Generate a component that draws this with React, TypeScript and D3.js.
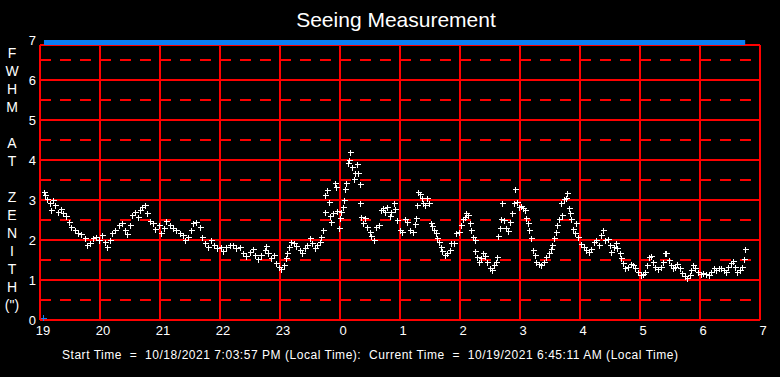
import React from "react";
import * as d3 from "d3";

// minutes after 19:00 on 10/18/2021
const minutes: number[] = [
  4.0, 5.3, 7.3, 9.7, 10.7, 13, 15.3, 18, 20.7, 23, 26.3, 29, 31.3, 34.7, 38, 41.3, 44.7, 47.3, 49.7, 53,
  56.3, 59, 62.3, 64.7, 67.3, 69.7, 72, 75.3, 78.7, 82, 84.7, 87, 89.7, 92, 94.7, 98, 99.7, 102, 104.7, 107.3,
  109.7, 113, 115.3, 118.7, 121.3, 124, 126.3, 129.7, 133, 136.3, 139.7, 143, 145.3, 148, 150.7, 153, 156.3, 159.7, 162.3, 164.7,
  168, 170.7, 174, 177.3, 180.7, 183, 186.3, 189.7, 193, 196.3, 199.7, 203, 206.3, 209.7, 213, 215.3, 218, 221.3, 224.7, 226.3,
  228, 231.3, 234, 236.3, 239, 241.3, 243.7, 245.7, 247.3, 249, 251.3, 254, 256.3, 259.7, 262, 264.7, 267.3, 269.7, 272.3, 274.7,
  277.3, 279.7, 281.3, 283, 284.7, 285.3, 287.3, 288.7, 289.7, 291.3, 293, 294.7, 296.3, 297.3, 298.7, 300, 301.3, 303, 304, 305.3,
  306.3, 308, 309, 310.3, 312, 314, 315.3, 317.3, 318, 319.7, 320.3, 321.3, 323, 324.7, 327.3, 329.7, 331.3, 333.7, 336.3, 338.7,
  340.7, 343, 345.3, 347.3, 349.7, 351.3, 353.7, 355.3, 357.3, 359.7, 362, 364.7, 367.3, 369.7, 373, 375.3, 376.3, 377.3, 378, 379.7,
  382, 383, 384.7, 387.3, 388.7, 390.7, 392.3, 394, 395.7, 397.3, 399, 400.7, 402.3, 404.7, 407.3, 409.7, 411.3, 414, 416.3, 418.7,
  421.3, 423, 424.7, 426.3, 428, 429.7, 431.3, 433, 434.7, 435.3, 437, 438.7, 440.7, 443, 445.3, 447.3, 449.7, 452, 454, 455.7,
  457, 458, 459.7, 460.7, 462, 464, 466.3, 468, 469.7, 472, 473.7, 475.3, 477.3, 478.7, 480.7, 483, 485.3, 486.3, 488, 489,
  490.7, 493, 494.7, 496.3, 498.7, 501.3, 504, 506.3, 508.7, 510.7, 512.3, 514, 515.7, 517.3, 519, 520.7, 522, 523.7, 525.7, 527.3,
  528.7, 530.3, 531.3, 533, 534.7, 536.3, 538, 540.7, 544, 546.3, 548.7, 551.3, 554, 556.3, 558.7, 561.3, 563, 565.3, 568, 569.7,
  571.3, 574, 576.3, 577.3, 579.7, 581.3, 583, 585.3, 588, 590.7, 593, 595.3, 598, 600.7, 603, 605.3, 607, 608.7, 610.7, 613,
  615.3, 618, 620.7, 623, 624.7, 626.3, 628.7, 630.7, 633, 635.3, 637.3, 639.7, 642, 644.7, 647.3, 649.7, 651.3, 653, 655.3, 658,
  660.7, 663, 665.7, 668.7, 671.3, 674, 676.3, 678.7, 681.3, 684, 686.3, 688, 690.7, 693, 694.7, 697.3, 699.7, 702, 703.7, 704.7,
];

const fwhm: number[] = [
  3.21, 3.12, 3.02, 2.92, 2.75, 3.0, 2.87, 2.71, 2.77, 2.67, 2.6, 2.46, 2.33, 2.25, 2.17, 2.15, 2.04, 1.88, 1.93, 2.04,
  2.08, 2.0, 2.12, 1.96, 1.82, 2.0, 2.17, 2.25, 2.37, 2.42, 2.25, 2.14, 2.37, 2.62, 2.71, 2.58, 2.75, 2.82, 2.87, 2.67,
  2.48, 2.42, 2.27, 2.37, 2.18, 2.29, 2.48, 2.37, 2.29, 2.25, 2.18, 2.12, 2.0, 2.08, 2.25, 2.42, 2.46, 2.33, 2.08, 1.92,
  1.83, 2.0, 1.88, 1.79, 1.83, 1.73, 1.82, 1.88, 1.88, 1.79, 1.83, 1.67, 1.6, 1.71, 1.77, 1.63, 1.52, 1.63, 1.75, 1.85,
  1.68, 1.54, 1.63, 1.42, 1.33, 1.27, 1.38, 1.54, 1.67, 1.83, 1.96, 1.93, 1.85, 1.75, 1.67, 1.79, 1.88, 2.04, 1.92, 1.79,
  1.88, 1.96, 2.08, 2.25, 2.71, 3.12, 3.25, 2.96, 2.6, 2.46, 2.67, 3.42, 3.33, 2.72, 2.29, 2.54, 2.71, 2.83, 3.0, 3.27,
  3.42, 3.92, 4.0, 4.19, 3.83, 3.52, 3.68, 3.89, 3.68, 3.4, 2.92, 2.57, 2.42, 2.54, 2.32, 2.21, 2.1, 2.0, 2.32, 2.37,
  2.75, 2.79, 2.71, 2.83, 2.6, 2.71, 2.93, 2.77, 2.5, 2.25, 2.21, 2.52, 2.46, 2.25, 2.21, 2.4, 2.54, 2.87, 3.21, 3.15,
  3.04, 2.92, 2.87, 3.04, 2.92, 2.43, 2.35, 2.25, 2.17, 2.04, 1.96, 1.83, 1.73, 1.63, 1.67, 1.75, 1.93, 1.93, 2.17, 2.21,
  2.37, 2.52, 2.58, 2.68, 2.62, 2.42, 2.25, 2.08, 2.0, 1.73, 1.57, 1.46, 1.54, 1.67, 1.6, 1.46, 1.29, 1.25, 1.38, 1.46,
  1.58, 2.1, 2.29, 2.52, 2.92, 2.5, 2.29, 2.23, 2.46, 2.67, 2.93, 3.27, 2.96, 2.83, 2.85, 2.79, 2.75, 2.54, 2.43, 2.25,
  2.04, 1.75, 1.63, 1.46, 1.4, 1.38, 1.46, 1.57, 1.68, 1.77, 1.88, 2.04, 2.21, 2.37, 2.52, 2.92, 2.62, 3.02, 3.04, 3.17,
  2.79, 2.67, 2.52, 2.27, 2.17, 2.42, 2.08, 1.9, 1.83, 1.75, 1.71, 1.77, 1.96, 2.0, 1.88, 2.12, 2.25, 2.0, 2.02, 1.88,
  1.71, 1.83, 1.93, 1.79, 1.67, 1.54, 1.42, 1.29, 1.33, 1.4, 1.38, 1.29, 1.21, 1.13, 1.15, 1.21, 1.38, 1.57, 1.6, 1.46,
  1.33, 1.27, 1.33, 1.46, 1.67, 1.68, 1.5, 1.38, 1.29, 1.33, 1.4, 1.29, 1.18, 1.1, 1.04, 1.13, 1.25, 1.38, 1.29, 1.21,
  1.15, 1.17, 1.15, 1.13, 1.21, 1.29, 1.25, 1.29, 1.29, 1.25, 1.21, 1.33, 1.42, 1.48, 1.33, 1.21, 1.25, 1.33, 1.52, 1.77,
];

const yTicks: number[] = [0, 1, 2, 3, 4, 5, 6, 7];
const yHalfTicks: number[] = [0.5, 1.5, 2.5, 3.5, 4.5, 5.5, 6.5];
const yAxisLetters: string[] = ["F", "W", "H", "M", "", "A", "T", "", "Z", "E", "N", "I", "T", "H", '(")'];

const title = "Seeing Measurement";
const footer =
  "Start Time  =  10/18/2021 7:03:57 PM (Local Time):  Current Time  =  10/19/2021 6:45:11 AM (Local Time)";

const axisStart = new Date(2021, 9, 18, 19, 0, 0);
const axisEnd = new Date(2021, 9, 19, 7, 0, 0);
const startTime = new Date(2021, 9, 18, 19, 3, 57);
const currentTime = new Date(2021, 9, 19, 6, 45, 11);

const W = 780;
const H = 377;
const FONT = "'Liberation Sans', Arial, sans-serif";

export default function App() {
  const x = d3.scaleTime().domain([axisStart, axisEnd]).range([40, 760]);
  const y = d3.scaleLinear().domain([0, 7]).range([320, 40]);
  const hours = d3.timeHour.range(axisStart, new Date(+axisEnd + 1));
  const fmt = d3.timeFormat("%-H");
  const pts = minutes.map((m, i) => ({ t: new Date(+axisStart + m * 60000), v: fwhm[i] }));
  const frameTop = y(7) + 5;
  const red = "#ff0000";

  return (
    <svg
      width={W}
      height={H}
      style={{ position: "absolute", left: 0, top: 0, display: "block", background: "#000" }}
      fontFamily={FONT}
    >
      <rect x={0} y={0} width={W} height={H} fill="#000" />
      <text x={396} y={27} fill="#fff" fontSize={21} textAnchor="middle">
        {title}
      </text>

      {/* dashed half-unit lines */}
      {yHalfTicks.map((v) => (
        <line
          key={"h" + v}
          x1={40}
          x2={760}
          y1={y(v)}
          y2={y(v)}
          stroke={red}
          strokeWidth={2}
          strokeDasharray="11 9"
          shapeRendering="crispEdges"
        />
      ))}
      {/* solid unit lines */}
      {yTicks.filter((v) => v < 7).map((v) => (
        <line key={"s" + v} x1={40} x2={760} y1={y(v)} y2={y(v)} stroke={red} strokeWidth={2} shapeRendering="crispEdges" />
      ))}
      <line x1={40} x2={760} y1={frameTop} y2={frameTop} stroke={red} strokeWidth={2} shapeRendering="crispEdges" />
      {hours.map((h) => (
        <line
          key={"v" + +h}
          x1={x(h)}
          x2={x(h)}
          y1={frameTop}
          y2={y(0)}
          stroke={red}
          strokeWidth={2}
          shapeRendering="crispEdges"
        />
      ))}

      {/* blue time span bar */}
      <rect x={x(startTime)} y={y(7)} width={x(currentTime) - x(startTime)} height={5} fill="#0a7ff7" />
      <path
        d={`M${x(startTime) - 3},${y(0) - 2}H${x(startTime) + 3}M${x(startTime)},${y(0) - 5}V${y(0) + 1}`}
        stroke="#0a7ff7"
        strokeWidth={1}
        shapeRendering="crispEdges"
      />

      {/* data points */}
      <g stroke="#fff" strokeWidth={1} shapeRendering="crispEdges">
        {pts.map((p, i) => {
          const cx = Math.round(x(p.t)) + 0.5;
          const cy = Math.round(y(p.v)) + 0.5;
          return <path key={i} d={`M${cx - 3},${cy}H${cx + 3}M${cx},${cy - 3}V${cy + 3}`} />;
        })}
      </g>

      {/* y tick labels */}
      {yTicks.map((v) => (
        <text key={"yt" + v} x={36} y={y(v) + 5} fill="#fff" fontSize={13} textAnchor="end">
          {v}
        </text>
      ))}
      {/* x tick labels */}
      {hours.map((h) => (
        <text key={"xt" + +h} x={x(h) + 3} y={335} fill="#fff" fontSize={13} textAnchor="middle">
          {fmt(h)}
        </text>
      ))}

      {/* vertical axis title */}
      {yAxisLetters.map((c, i) => (
        <text key={"l" + i} x={12} y={58 + 18 * i} fill="#fff" fontSize={14} textAnchor="middle">
          {c}
        </text>
      ))}

      <text x={62} y={359} fill="#fff" fontSize={12} textLength={616} lengthAdjust="spacing" style={{ whiteSpace: "pre" }}>
        {footer}
      </text>
    </svg>
  );
}
